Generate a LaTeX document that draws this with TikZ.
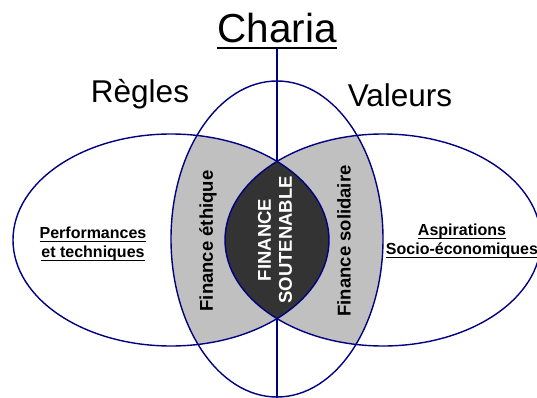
\documentclass[tikz,border=0pt]{standalone}
\usepackage{fontspec}
\setmainfont{Liberation Sans}
\usetikzlibrary{positioning}
\definecolor{vennline}{RGB}{0,0,128}
\definecolor{overlapgray}{RGB}{192,192,192}
\definecolor{coredark}{RGB}{51,51,51}
% underline with own thickness (#1) and depth below baseline (#2)
\newcommand\ulinetext[3]{%
    \setbox0=\hbox{#3}\rlap{\copy0}%
    \vrule width \wd0 height -#2 depth \dimexpr #2+#1\relax}
\tikzset{
    vennedge/.style={draw=vennline, line width=1.4pt},
    axisline/.style={draw=vennline, line width=2.6pt},
    bigword/.style={font=\fontsize{31.5}{36}\selectfont, anchor=base, inner sep=0pt}
}

\begin{document}
\begin{tikzpicture}[x=1pt, y=-1pt,
    sidelabel/.style={font=\bfseries\fontsize{16}{19}\selectfont, align=center, inner sep=0pt},
    zonetext/.style={font=\bfseries\fontsize{18.5}{21}\selectfont, rotate=90, inner sep=0pt},
    coretext/.style={zonetext, align=center, text=white}
]
\useasboundingbox (0,0) rectangle (537,398);
\coordinate (lc) at (171,240);
\coordinate (rc) at (383,240);
\coordinate (mc) at (277,239);
\coordinate (axisend) at (277,398);
% grey overlaps
\begin{scope}
  \clip (lc) ellipse [x radius=158, y radius=106];
  \fill[overlapgray] (mc) ellipse [x radius=106, y radius=158];
\end{scope}
\begin{scope}
  \clip (rc) ellipse [x radius=158, y radius=106];
  \fill[overlapgray] (mc) ellipse [x radius=106, y radius=158];
\end{scope}
% title and axis
\node[font=\fontsize{40.5}{48}\selectfont, anchor=base, inner sep=0pt] (charia) at (277,43)
    {\ulinetext{2.4pt}{3.7pt}{Charia}};
\draw[axisline] (charia.south) -- (axisend);
% dark core
\begin{scope}
  \clip (lc) ellipse [x radius=158, y radius=106];
  \fill[coredark] (rc) ellipse [x radius=158, y radius=106];
\end{scope}
\draw[vennedge] (lc) ellipse [x radius=158, y radius=106];
\draw[vennedge] (rc) ellipse [x radius=158, y radius=106];
\draw[vennedge] (mc) ellipse [x radius=106, y radius=158];
% labels
\node[bigword] (regles) at (140,103) {Règles};
\node[bigword] (valeurs) at (400,107) {Valeurs};
\node[sidelabel] (perf) at (93,244)
    {\ulinetext{1.3pt}{2pt}{Performances}\\\ulinetext{1.3pt}{2pt}{et techniques}};
\node[sidelabel] (aspi) at (462,241)
    {\ulinetext{1.3pt}{2pt}{Aspirations}\\\ulinetext{1.3pt}{2pt}{Socio-économiques}};
\node[zonetext] (ethique) at (208,241) {Finance éthique};
\node[zonetext] (solidaire) at (344,241) {Finance solidaire};
\node[coretext] (soutenable) at (275,240) {FINANCE\\SOUTENABLE};
\end{tikzpicture}
\end{document}
